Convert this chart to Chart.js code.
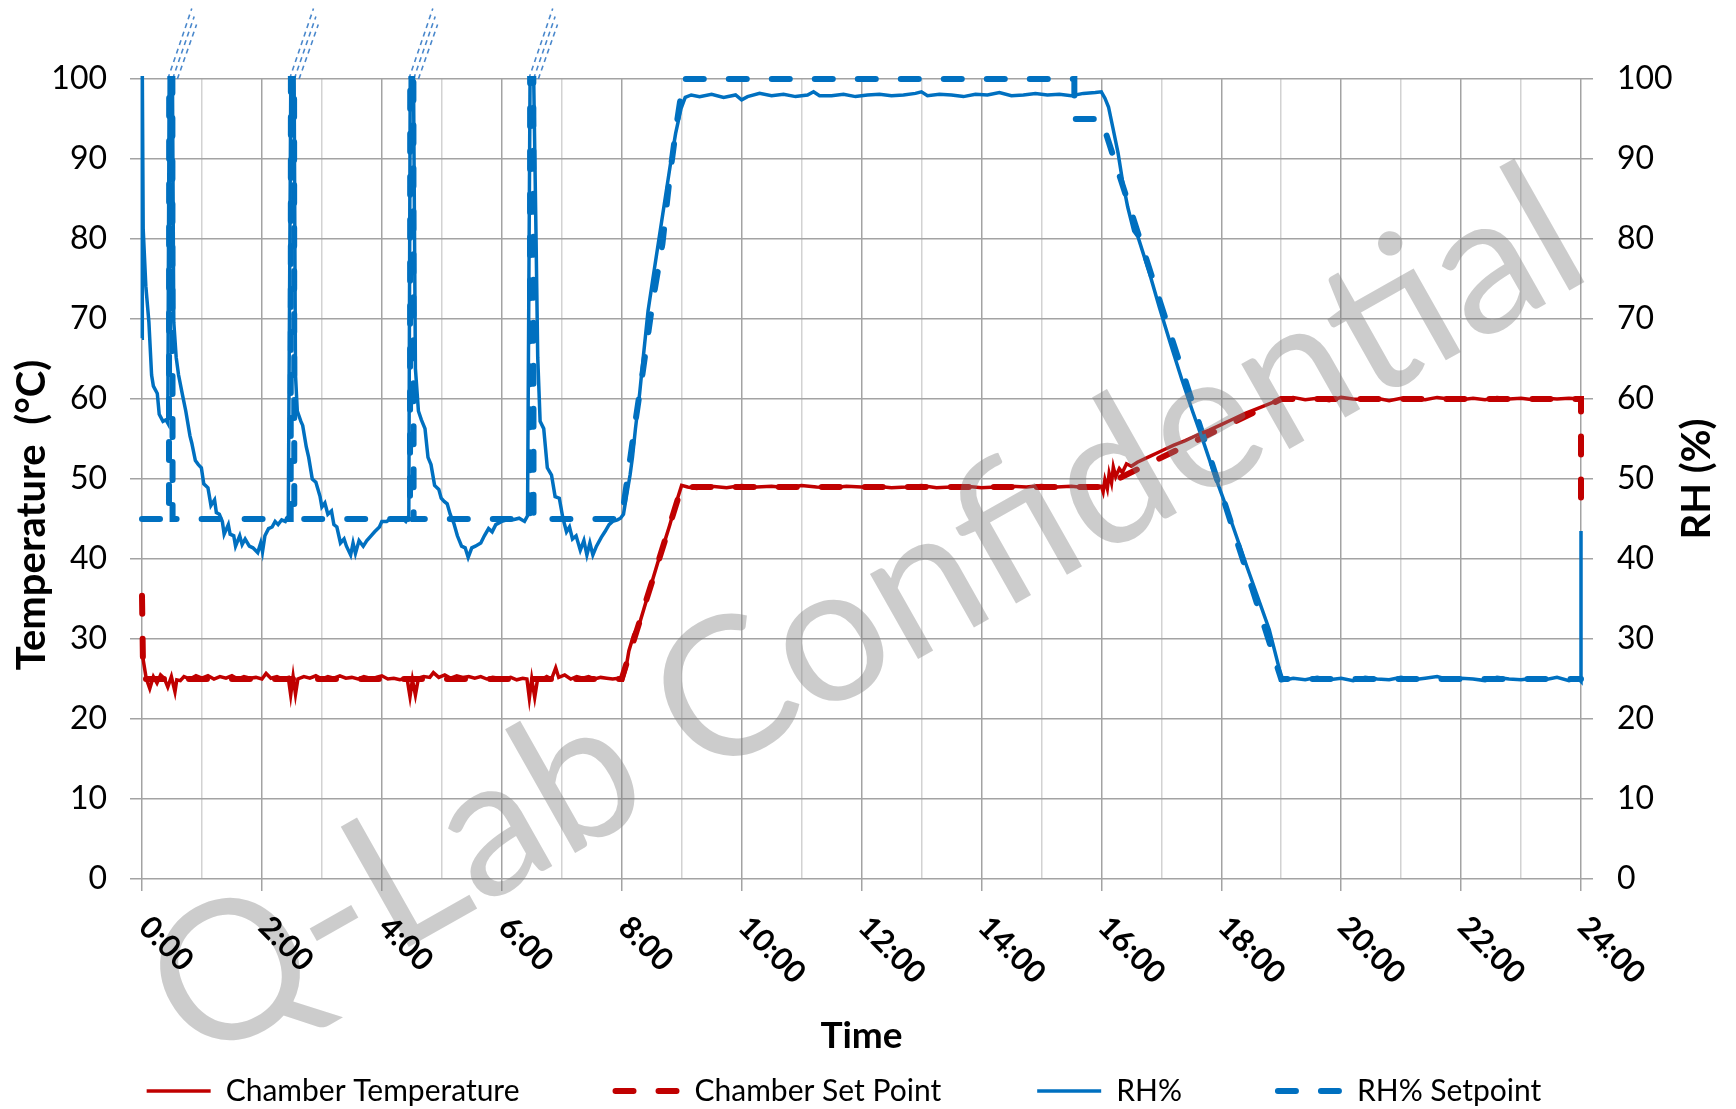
<!DOCTYPE html>
<html>
<head>
<meta charset="utf-8">
<script src="https://cdn.jsdelivr.net/npm/chart.js@4.4.1/dist/chart.umd.min.js"></script>
<style>
  html, body { margin: 0; padding: 0; background: #fff; }
</style>
</head>
<body>
<canvas id="chart" width="1736" height="1109"></canvas>
<script>
// x axis: hours 0..24, labelled every 2 h
const hourTicks = [0, 2, 4, 6, 8, 10, 12, 14, 16, 18, 20, 22, 24];
const hourLabels = ['0:00', '2:00', '4:00', '6:00', '8:00', '10:00', '12:00', '14:00', '16:00', '18:00', '20:00', '22:00', '24:00'];

const seriesNames = ['Chamber Temperature', 'Chamber Set Point', 'RH%', 'RH% Setpoint'];
const leftTitle = 'Temperature  (\u00B0C)';
const rightTitle = 'RH (%)';
const xTitle = 'Time';
const watermarkText = 'Q-Lab Confidential';

// [hour, value]
const chamberTemp = [
  [0, 30.0], [0.02, 27.4], [0.07, 25.1], [0.13, 23.8], [0.19, 25.3], [0.25, 24.5], [0.31, 25.5], [0.37, 25.1],
  [0.43, 24.0], [0.49, 25.3], [0.55, 23.4], [0.58, 24.9], [0.64, 24.8], [0.7, 25.3], [0.8, 25.0], [0.9, 25.4],
  [1.0, 25.1], [1.1, 25.4], [1.2, 25.0], [1.3, 25.3], [1.4, 25.1], [1.5, 25.4], [1.6, 25.0], [1.7, 25.3],
  [1.8, 25.1], [1.9, 25.2], [2.0, 25.0], [2.07, 25.7], [2.15, 25.1], [2.25, 25.3], [2.35, 25.0], [2.44, 25.2],
  [2.48, 23.0], [2.52, 25.3], [2.56, 23.1], [2.6, 25.0], [2.7, 25.3], [2.8, 25.1], [2.9, 25.4], [3.0, 25.0],
  [3.1, 25.3], [3.2, 25.1], [3.3, 25.4], [3.4, 25.1], [3.5, 25.2], [3.6, 25.0], [3.7, 25.3], [3.8, 25.1],
  [3.9, 25.2], [4.0, 25.4], [4.1, 25.0], [4.2, 25.1], [4.3, 24.9], [4.42, 25.1], [4.47, 22.8], [4.51, 24.9],
  [4.56, 23.0], [4.61, 25.1], [4.7, 25.3], [4.8, 25.2], [4.86, 25.8], [4.95, 25.2], [5.05, 25.5], [5.15, 25.1],
  [5.25, 25.4], [5.35, 25.2], [5.45, 25.3], [5.55, 25.1], [5.65, 25.3], [5.75, 25.0], [5.85, 25.2], [5.95, 25.1],
  [6.05, 25.0], [6.15, 25.2], [6.25, 24.9], [6.35, 25.1], [6.42, 25.0], [6.46, 22.6], [6.5, 25.0], [6.55, 22.7],
  [6.6, 25.1], [6.68, 25.0], [6.75, 25.3], [6.83, 25.0], [6.9, 26.4], [6.95, 25.2], [7.05, 25.5], [7.15, 25.0],
  [7.25, 25.3], [7.35, 25.1], [7.45, 25.3], [7.55, 25.0], [7.65, 25.2], [7.75, 25.1], [7.85, 25.0], [7.95, 25.1],
  [8.02, 25.0], [8.07, 26.3], [8.12, 28.5], [8.2, 30.5], [8.3, 32.0], [8.4, 34.5], [8.5, 37.0], [8.6, 39.5],
  [8.7, 41.8], [8.8, 44.2], [8.9, 46.8], [9.0, 49.2], [9.1, 49.0], [9.25, 48.8], [9.5, 49.1], [9.75, 48.9],
  [10.0, 49.2], [10.25, 49.0], [10.5, 49.1], [10.75, 48.9], [11.0, 49.2], [11.25, 49.0], [11.5, 48.9], [11.75, 49.1],
  [12.0, 49.0], [12.25, 49.1], [12.5, 48.9], [12.75, 49.0], [13.0, 49.2], [13.25, 48.9], [13.5, 49.0], [13.75, 49.1],
  [14.0, 48.9], [14.25, 49.0], [14.5, 49.1], [14.75, 49.0], [15.0, 49.2], [15.25, 49.0], [15.5, 49.1], [15.75, 48.9],
  [16.0, 49.1], [16.03, 48.4], [16.06, 49.9], [16.1, 48.8], [16.13, 50.7], [16.17, 49.5], [16.2, 51.5], [16.24, 50.3],
  [16.3, 51.3], [16.35, 50.8], [16.42, 51.9], [16.5, 51.6], [16.6, 52.1], [16.8, 52.8], [17.0, 53.5], [17.2, 54.2],
  [17.4, 54.8], [17.6, 55.5], [17.8, 56.1], [18.0, 56.8], [18.2, 57.5], [18.4, 58.2], [18.6, 58.8], [18.8, 59.4],
  [19.0, 60.0], [19.2, 60.2], [19.4, 59.9], [19.6, 60.1], [19.8, 59.8], [20.0, 60.2], [20.2, 60.0], [20.4, 59.9],
  [20.6, 60.1], [20.8, 59.8], [21.0, 60.1], [21.2, 60.0], [21.4, 59.9], [21.6, 60.2], [21.8, 60.0], [22.0, 59.9],
  [22.2, 60.1], [22.4, 59.9], [22.6, 60.2], [22.8, 60.0], [23.0, 60.1], [23.2, 59.9], [23.4, 60.1], [23.6, 60.0],
  [23.8, 60.1], [24.0, 60.0]
];

const chamberSet = [
  [0, 35.4], [0.02, 25], [8.0, 25], [9.0, 49], [16.0, 49], [19.0, 60], [24.0, 60], [24.0, 45.7]
];

const rhActual = [
  [0, 67.6], [0.005, 101], [0.02, 81.2], [0.064, 74.1], [0.115, 69.6], [0.16, 63.0], [0.19, 61.6], [0.255, 60.7],
  [0.287, 58.1], [0.35, 57.2], [0.40, 57.4], [0.43, 57.0], [0.455, 104], [0.505, 104], [0.53, 69.6], [0.57, 65.2],
  [0.61, 63.0], [0.67, 60.7], [0.73, 58.5], [0.80, 55.4], [0.83, 54.5], [0.89, 52.3], [0.94, 51.8], [0.99, 51.4],
  [1.03, 49.4], [1.10, 48.9], [1.15, 46.7], [1.21, 47.4], [1.24, 45.8], [1.29, 45.6], [1.34, 44.7], [1.37, 43.1],
  [1.44, 44.3], [1.47, 43.1], [1.53, 42.9], [1.56, 41.6], [1.63, 42.9], [1.67, 41.8], [1.72, 42.5], [1.79, 41.6],
  [1.85, 41.4], [1.93, 40.8], [1.98, 42.0], [2.01, 40.9], [2.05, 42.9], [2.11, 43.8], [2.17, 44.0], [2.22, 44.7],
  [2.27, 44.3], [2.33, 44.9], [2.39, 44.7], [2.44, 45.4], [2.485, 104], [2.535, 104], [2.56, 63.0], [2.59, 58.5],
  [2.65, 57.2], [2.68, 56.7], [2.74, 54.0], [2.78, 52.7], [2.84, 50.0], [2.90, 49.6], [2.97, 47.8], [3.0, 46.5],
  [3.05, 47.0], [3.10, 45.6], [3.16, 46.0], [3.20, 44.3], [3.25, 44.0], [3.31, 42.0], [3.37, 42.5], [3.41, 41.6],
  [3.48, 40.5], [3.52, 42.0], [3.56, 40.7], [3.62, 42.3], [3.69, 41.6], [3.75, 42.3], [3.82, 42.9], [3.88, 43.4],
  [3.96, 44.0], [4.0, 44.7], [4.08, 44.7], [4.16, 45.1], [4.24, 44.9], [4.34, 45.1], [4.40, 44.7], [4.45, 45.4],
  [4.475, 104], [4.525, 104], [4.56, 63.8], [4.61, 58.5], [4.66, 57.4], [4.72, 56.3], [4.77, 52.7], [4.82, 51.8],
  [4.88, 49.2], [4.95, 48.7], [4.99, 47.6], [5.04, 47.2], [5.09, 46.9], [5.14, 45.6], [5.20, 44.5], [5.26, 42.9],
  [5.33, 41.6], [5.39, 41.4], [5.44, 40.2], [5.50, 41.4], [5.56, 41.6], [5.65, 42.0], [5.71, 42.9], [5.78, 43.8],
  [5.84, 43.4], [5.90, 44.3], [6.0, 44.7], [6.09, 44.9], [6.19, 44.9], [6.29, 45.1], [6.38, 44.7], [6.43, 45.4],
  [6.475, 104], [6.525, 104], [6.57, 81.2], [6.60, 65.2], [6.64, 57.2], [6.70, 56.3], [6.76, 51.4], [6.83, 50.5],
  [6.89, 47.8], [6.96, 47.6], [7.02, 45.1], [7.08, 43.4], [7.13, 44.0], [7.18, 42.5], [7.24, 42.9], [7.31, 41.1],
  [7.37, 42.3], [7.42, 40.5], [7.47, 42.0], [7.52, 40.5], [7.58, 41.6], [7.66, 42.7], [7.72, 43.4], [7.79, 44.3],
  [7.85, 44.7], [7.93, 44.9], [7.98, 45.1], [8.03, 45.6], [8.07, 47.4], [8.14, 50.5], [8.18, 52.7], [8.23, 56.3],
  [8.30, 60.7], [8.36, 65.2], [8.44, 71.0], [8.52, 75.0], [8.62, 79.9], [8.71, 84.3], [8.81, 89.2], [8.90, 93.2],
  [8.99, 96.3], [9.06, 97.7], [9.16, 98.0], [9.3, 97.8], [9.5, 98.1], [9.7, 97.7], [9.9, 98.0], [10.0, 97.4],
  [10.1, 97.8], [10.3, 98.2], [10.5, 97.9], [10.7, 98.1], [10.9, 97.8], [11.1, 98.0], [11.2, 98.4], [11.3, 97.9],
  [11.5, 97.9], [11.7, 98.1], [11.9, 97.8], [12.1, 98.0], [12.3, 98.1], [12.5, 97.9], [12.7, 98.0], [12.9, 98.2],
  [13.0, 98.4], [13.1, 97.9], [13.3, 98.1], [13.5, 98.0], [13.7, 97.8], [13.9, 98.1], [14.1, 98.0], [14.3, 98.3],
  [14.5, 97.9], [14.7, 98.0], [14.9, 98.2], [15.1, 98.0], [15.3, 98.1], [15.5, 97.9], [15.7, 98.2], [15.9, 98.3],
  [16.0, 98.4], [16.06, 97.6], [16.12, 96.5], [16.19, 94.0], [16.28, 90.7], [16.35, 87.4], [16.44, 84.0], [16.54, 81.0],
  [16.61, 80.3], [16.8, 75.8], [16.97, 71.4], [17.15, 67.0], [17.34, 62.5], [17.52, 58.5], [17.70, 54.7], [17.88, 50.7],
  [18.07, 46.8], [18.25, 42.9], [18.43, 39.0], [18.62, 35.0], [18.80, 31.2], [18.95, 26.8], [19.01, 24.8], [19.2, 25.1],
  [19.4, 24.9], [19.6, 25.2], [19.8, 24.9], [20.0, 25.1], [20.2, 24.8], [20.4, 25.2], [20.6, 25.0], [20.8, 24.9],
  [21.0, 25.2], [21.2, 24.9], [21.4, 25.1], [21.6, 25.3], [21.8, 24.9], [22.0, 25.1], [22.2, 25.0], [22.4, 24.8],
  [22.6, 25.2], [22.8, 25.0], [23.0, 24.9], [23.2, 25.1], [23.4, 24.9], [23.6, 25.2], [23.8, 24.8], [23.95, 25.1],
  [24.0, 24.7], [24.0, 43.5]
];

const rhSet = [
  [0, 45], [0.45, 45], [0.455, 130], [0.505, 130], [0.51, 45], [2.48, 45], [2.485, 130], [2.535, 130],
  [2.54, 45], [4.47, 45], [4.475, 130], [4.525, 130], [4.53, 45], [6.47, 45], [6.475, 130], [6.525, 130],
  [6.53, 45], [8.0, 45], [8.23, 57.2], [8.36, 63.8], [8.52, 72.3], [8.68, 79.4], [8.81, 88.3], [8.93, 95.0],
  [9.03, 100], [15.55, 100], [15.55, 95], [16.0, 95], [19.0, 25], [24.0, 25]
];

// setpoint spikes run off the top of the axis; the part above 100 shows as faint dashed strokes
const rhSetOverflow = [
  [0.43, 100], [0.83, 108.8], null, [0.51, 100], [0.87, 107.8], null, [0.59, 100], [0.91, 106.8], null,
  [2.46, 100], [2.86, 108.8], null, [2.54, 100], [2.90, 107.8], null, [2.62, 100], [2.94, 106.8], null,
  [4.45, 100], [4.85, 108.8], null, [4.53, 100], [4.89, 107.8], null, [4.61, 100], [4.93, 106.8], null,
  [6.45, 100], [6.85, 108.8], null, [6.53, 100], [6.89, 107.8], null, [6.61, 100], [6.93, 106.8]
];

const RED = '#C00000';
const BLUE = '#0070C0';
const GRID_DARK = '#a3a3a3';
const GRID_LIGHT = '#d2d2d2';

// vertical layout (px): legend row centre, title centre, plot bottom
const LEGEND_PAD = 96;
const LEGEND_FONT = 30;
const LEGEND_CENTER = 1091;
const TIME_CENTER = 1036;
const PLOT_BOTTOM = 879;
const legendTop = LEGEND_CENTER - LEGEND_PAD - LEGEND_FONT / 2;
const TIME_FONT = 37;

const toPoints = (pairs) => pairs.map((p, i) => (p ? { x: p[0], y: p[1] } : { x: pairs[i - 1][0], y: null }));

Chart.defaults.font.family = 'Lato';
Chart.defaults.color = '#000';

const decorations = {
  id: 'decorations',
  afterDatasetsDraw(chart) {
    const ctx = chart.ctx;
    ctx.save();
    ctx.translate(866, 617);
    ctx.rotate(-29.5 * Math.PI / 180);
    ctx.font = '193px Lato';
    ctx.fillStyle = 'rgba(128, 128, 128, 0.4)';
    ctx.textAlign = 'center';
    ctx.textBaseline = 'middle';
    ctx.fillText(watermarkText, 0, 0);
    ctx.restore();
  },
  afterDraw(chart) {
    const ctx = chart.ctx;
    const xScale = chart.scales.x;
    const area = chart.chartArea;
    ctx.save();
    ctx.fillStyle = '#000';
    // rotated hour labels (clockwise, starting at the tick)
    ctx.font = 'bold 31px Lato';
    ctx.textAlign = 'left';
    ctx.textBaseline = 'middle';
    hourTicks.forEach((h, i) => {
      ctx.save();
      ctx.translate(xScale.getPixelForValue(h) + 2, area.bottom + 43);
      ctx.rotate(Math.PI / 4);
      ctx.fillText(hourLabels[i], 0, 0);
      ctx.restore();
    });
    // axis titles, both reading bottom to top
    ctx.font = 'bold 40px Lato';
    ctx.textAlign = 'center';
    ctx.save();
    ctx.translate(32, (area.top + area.bottom) / 2 + 36);
    ctx.rotate(-Math.PI / 2);
    ctx.fillText(leftTitle, 0, 0);
    ctx.restore();
    ctx.save();
    ctx.translate(1697, (area.top + area.bottom) / 2);
    ctx.rotate(-Math.PI / 2);
    ctx.fillText(rightTitle, 0, 0);
    ctx.restore();
    ctx.restore();
  }
};

const lineClip = { left: 3, top: 3, right: 3, bottom: 3 };

const config = {
  type: 'line',
  data: {
    datasets: [
      {
        label: seriesNames[0],
        data: toPoints(chamberTemp),
        yAxisID: 'y',
        borderColor: RED,
        backgroundColor: RED,
        borderWidth: 3.5,
        order: 1,
        clip: lineClip
      },
      {
        label: seriesNames[1],
        data: toPoints(chamberSet),
        yAxisID: 'y',
        borderColor: RED,
        backgroundColor: RED,
        borderWidth: 6,
        borderDash: [18, 25],
        borderCapStyle: 'round',
        order: 3,
        clip: lineClip
      },
      {
        label: seriesNames[2],
        data: toPoints(rhActual),
        yAxisID: 'y1',
        borderColor: BLUE,
        backgroundColor: BLUE,
        borderWidth: 3.5,
        order: 0,
        clip: lineClip
      },
      {
        label: seriesNames[3],
        data: toPoints(rhSet),
        yAxisID: 'y1',
        borderColor: BLUE,
        backgroundColor: BLUE,
        borderWidth: 6,
        borderDash: [18, 25],
        borderCapStyle: 'round',
        order: 2,
        clip: lineClip
      },
      {
        label: 'overflow',
        data: toPoints(rhSetOverflow),
        parsing: true,
        yAxisID: 'y1',
        borderColor: '#4a88cc',
        borderWidth: 1.6,
        borderDash: [5, 4],
        spanGaps: false,
        order: 4,
        clip: false
      }
    ]
  },
  options: {
    responsive: false,
    animation: false,
    parsing: false,
    elements: {
      point: { radius: 0, hoverRadius: 0 },
      line: { tension: 0 }
    },
    layout: {
      padding: { top: 79, left: 0, right: 48, bottom: -7 }
    },
    plugins: {
      tooltip: { enabled: false },
      legend: {
        position: 'bottom',
        labels: {
          font: { size: LEGEND_FONT },
          color: '#000',
          usePointStyle: true,
          pointStyleWidth: 64,
          padding: LEGEND_PAD,
          generateLabels: (chart) => chart.data.datasets
            .filter((ds) => seriesNames.includes(ds.label))
            .map((ds, i) => ({
              text: ds.label,
              datasetIndex: i,
              strokeStyle: ds.borderColor,
              fillStyle: ds.borderColor,
              lineWidth: ds.borderWidth,
              lineDash: ds.borderDash || [],
              lineCap: ds.borderCapStyle || 'butt',
              pointStyle: 'line',
              fontColor: '#000',
              hidden: false
            }))
        }
      }
    },
    scales: {
      x: {
        type: 'linear',
        min: 0,
        max: 24,
        border: { display: false },
        grid: {
          color: (c) => (c.tick.value % 2 === 0 ? GRID_DARK : GRID_LIGHT),
          tickColor: (c) => (c.tick.value % 2 === 0 ? GRID_DARK : 'rgba(0,0,0,0)'),
          lineWidth: 1.5,
          tickLength: 12
        },
        ticks: { display: false, stepSize: 1 },
        title: {
          display: true,
          text: xTitle,
          font: { size: TIME_FONT, weight: 'bold' },
          padding: { top: 0, bottom: legendTop - TIME_CENTER - TIME_FONT * 0.6 }
        },
        afterFit: (scale) => { scale.height = legendTop - PLOT_BOTTOM; }
      },
      y: {
        position: 'left',
        min: 0,
        max: 100,
        border: { display: false },
        grid: { color: GRID_DARK, lineWidth: 1.5, tickLength: 12 },
        ticks: { stepSize: 10, padding: 23, font: { size: 32 }, color: '#000' },
        afterFit: (scale) => { scale.width = 142; }
      },
      y1: {
        position: 'right',
        min: 0,
        max: 100,
        border: { display: false },
        grid: { color: GRID_DARK, lineWidth: 1.5, tickLength: 12, drawOnChartArea: false },
        ticks: { stepSize: 10, padding: 24, font: { size: 32 }, color: '#000' },
        afterFit: (scale) => { scale.width = 107; }
      }
    }
  },
  plugins: [decorations]
};

const chart = new Chart(document.getElementById('chart').getContext('2d'), config);
</script>
</body>
</html>
